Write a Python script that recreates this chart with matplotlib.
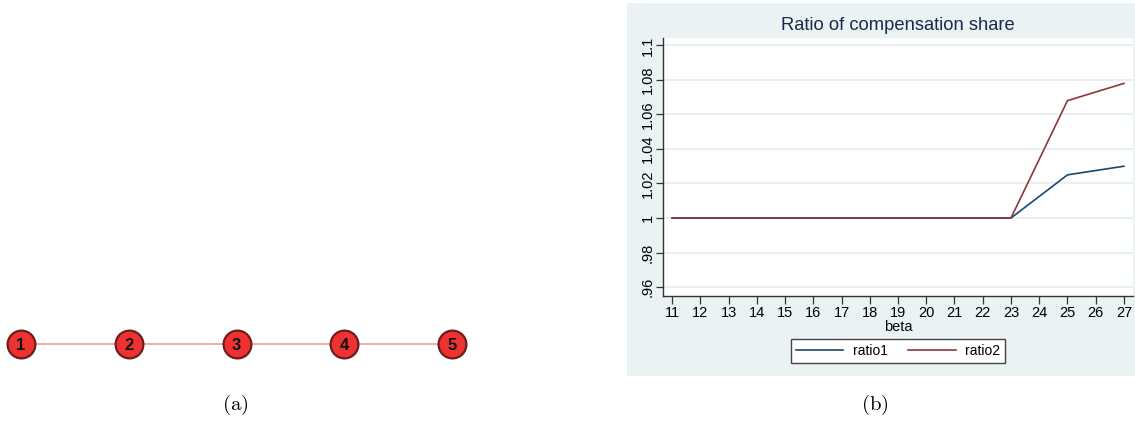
import matplotlib
matplotlib.use("Agg")
import matplotlib.pyplot as plt
from matplotlib.patches import Rectangle

plt.rcParams["mathtext.fontset"] = "cm"

# ---- panel (a): path graph ----
node_labels = ["1", "2", "3", "4", "5"]
edges = [(0, 1), (1, 2), (2, 3), (3, 4)]

# ---- panel (b): ratio of compensation share ----
beta = [11, 12, 13, 14, 15, 16, 17, 18, 19, 20, 21, 22, 23, 25, 27]
ratio1 = [1.0, 1.0, 1.0, 1.0, 1.0, 1.0, 1.0, 1.0, 1.0, 1.0, 1.0, 1.0, 1.0, 1.025, 1.030]
ratio2 = [1.0, 1.0, 1.0, 1.0, 1.0, 1.0, 1.0, 1.0, 1.0, 1.0, 1.0, 1.0, 1.0, 1.068, 1.078]
x_ticks = list(range(11, 28))
y_ticks = [0.96, 0.98, 1.0, 1.02, 1.04, 1.06, 1.08, 1.10]
y_tick_labels = [".96", ".98", "1", "1.02", "1.04", "1.06", "1.08", "1.1"]

W, H = 1135, 423
fig = plt.figure(figsize=(W / 100, H / 100), dpi=100)
fig.patch.set_facecolor("white")


def px_axes(x0, y0, x1, y1, **kw):
    return fig.add_axes([x0 / W, 1 - y1 / H, (x1 - x0) / W, (y1 - y0) / H], **kw)


# graph panel
ax_a = px_axes(0, 319, 480, 369)
ax_a.set_xlim(1 - 21 / 107.75, 1 + (480 - 21) / 107.75)
ax_a.set_ylim(-1, 1)
ax_a.axis("off")
xs = list(range(1, len(node_labels) + 1))
for i, j in edges:
    ax_a.plot([xs[i], xs[j]], [0, 0], color="#f4a3a3", lw=1.3, zorder=1)
ax_a.plot(xs, [0] * len(xs), "o", ms=20, mfc="#ee3232", mec="#6e1c1c", mew=1.6,
          linestyle="none", zorder=2)
for x, lab in zip(xs, node_labels):
    ax_a.text(x, -0.05, lab, ha="center", va="center", fontsize=12,
              fontweight="bold", family="Liberation Sans", color="#111111", zorder=3)

fig.text(235 / W, 1 - 405 / H, r"$\mathrm{(a)}$", ha="center", va="center", fontsize=15)
fig.text(875 / W, 1 - 405 / H, r"$\mathrm{(b)}$", ha="center", va="center", fontsize=15)

# light background of the line chart
fig.add_artist(Rectangle((627 / W, 1 - 376 / H), (W - 627) / W, (376 - 3) / H,
                         transform=fig.transFigure, facecolor="#eaf2f3",
                         edgecolor="none", zorder=0))

ax = px_axes(663, 38, 1133, 296)
ax.set_facecolor("white")
ax.set_xlim(10.68, 27.32)
ax.set_ylim(0.9548, 1.1043)
for y in y_ticks:
    ax.axhline(y, color="#e6eff1", lw=1.3, zorder=1)
ax.plot(beta, ratio1, color="#1a476f", lw=1.2, label="ratio1", zorder=3)
ax.plot(beta, ratio2, color="#90353b", lw=1.2, label="ratio2", zorder=3)

for s in ["top", "right"]:
    ax.spines[s].set_visible(False)
for s in ["left", "bottom"]:
    ax.spines[s].set_color("#333333")
    ax.spines[s].set_linewidth(1.0)

ax.set_xticks(x_ticks)
ax.set_xticklabels([str(t) for t in x_ticks], family="Liberation Sans", fontsize=10.5)
ax.set_yticks(y_ticks)
ax.set_yticklabels(y_tick_labels, family="Liberation Sans", fontsize=10.5,
                   rotation=90, va="center")
ax.tick_params(axis="x", length=5.5, width=0.9, color="#333333", pad=2)
ax.tick_params(axis="y", length=5.0, width=0.9, color="#333333", pad=1)
ax.set_xlabel("beta", family="Liberation Sans", fontsize=10.5, labelpad=0)

fig.text(898 / W, 1 - 25 / H, "Ratio of compensation share", ha="center", va="center",
         family="Liberation Sans", fontsize=13.2, color="#1a2a4a")

leg = ax.legend(loc="center", bbox_to_anchor=(0.5, (296 - 351) / 258), ncol=2,
                frameon=True, fancybox=False, handlelength=3.4, handletextpad=0.7,
                columnspacing=1.5, borderpad=0.35,
                prop={"family": "Liberation Sans", "size": 10})
leg.get_frame().set_edgecolor("#444444")
leg.get_frame().set_linewidth(1.0)
leg.get_frame().set_facecolor("white")
leg.get_frame().set_alpha(1)

fig.savefig("out.png", dpi=100)
